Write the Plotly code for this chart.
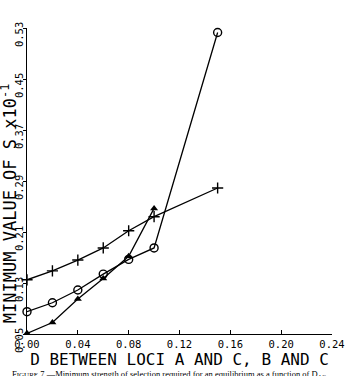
import plotly.graph_objects as go

d_values = [0.00, 0.02, 0.04, 0.06, 0.08, 0.10, 0.15]
plus_series = [0.135, 0.149, 0.166, 0.185, 0.212, 0.234, 0.279]
circle_series = [0.085, 0.099, 0.119, 0.144, 0.167, 0.185, 0.523]
triangle_d = [0.00, 0.02, 0.04, 0.06, 0.08, 0.10]
triangle_series = [0.051, 0.068, 0.105, 0.137, 0.172, 0.247]

x_ticks = [0.00, 0.04, 0.08, 0.12, 0.16, 0.20, 0.24]
x_tick_labels = ["0.00", "0.04", "0.08", "0.12", "0.16", "0.20", "0.24"]
y_ticks = [0.05, 0.13, 0.21, 0.29, 0.37, 0.45, 0.53]
y_tick_labels = ["0.05", "0.13", "0.21", "0.29", "0.37", "0.45", "0.53"]

L, R, T, B = 27, 22, 28, 42
W, H = 357, 376
pw, ph = W - L - R, H - T - B

def px_x(p):
    return (p - L) / pw

def px_y(p):
    return (H - B - p) / ph

line = dict(color="black", width=1.3)
fig = go.Figure()
fig.add_trace(go.Scatter(x=d_values, y=plus_series, mode="lines+markers", line=line,
                         marker=dict(symbol="cross-thin", size=8, line=dict(color="black", width=1.4)),
                         cliponaxis=False, showlegend=False))
fig.add_trace(go.Scatter(x=d_values, y=circle_series, mode="lines+markers", line=line,
                         marker=dict(symbol="circle-open", size=8, color="black", line=dict(color="black", width=1.4)),
                         cliponaxis=False, showlegend=False))
fig.add_trace(go.Scatter(x=triangle_d, y=triangle_series, mode="lines+markers", line=line,
                         marker=dict(symbol="triangle-up", size=7, color="black"),
                         cliponaxis=False, showlegend=False))

mono = "DejaVu Sans Mono"
fig.update_layout(
    width=W, height=H,
    margin=dict(l=L, r=R, t=T, b=B, pad=0),
    paper_bgcolor="white", plot_bgcolor="white",
    xaxis=dict(range=[0, 0.24], tickvals=x_ticks, ticktext=x_tick_labels,
               showgrid=False, zeroline=False, showline=True, linecolor="black", linewidth=1.2,
               ticks="inside", ticklen=4, tickcolor="black",
               tickfont=dict(family=mono, size=10.5, color="black"),
               title=dict(text="D BETWEEN LOCI A AND C, B AND C",
                          font=dict(family=mono, size=16, color="black"), standoff=1)),
    yaxis=dict(range=[0.05, 0.53], tickvals=y_ticks, ticktext=y_tick_labels,
               showgrid=False, zeroline=False, showline=True, linecolor="black", linewidth=1.2,
               ticks="outside", ticklen=3, tickcolor="black", tickangle=-90,
               ticklabelshift=8, ticklabelstandoff=-4,
               tickfont=dict(family=mono, size=10.5, color="black")),
    annotations=[
        dict(text="MINIMUM VALUE OF S x10<sup>-1</sup>", xref="paper", yref="paper",
             x=px_x(9), y=px_y(203), xanchor="center", yanchor="middle", textangle=-90,
             showarrow=False, font=dict(family=mono, size=17, color="black")),
        dict(text="F<span style='font-size:7px'>IGURE</span> 7.—Minimum strength of selection required for an equilibrium as a function of D<sub>AC</sub>",
             xref="paper", yref="paper", x=px_x(10), y=px_y(366.5), xanchor="left", yanchor="top",
             showarrow=False, font=dict(family="Liberation Serif", size=8.5, color="black")),
    ],
)

fig.write_html("out.html")
